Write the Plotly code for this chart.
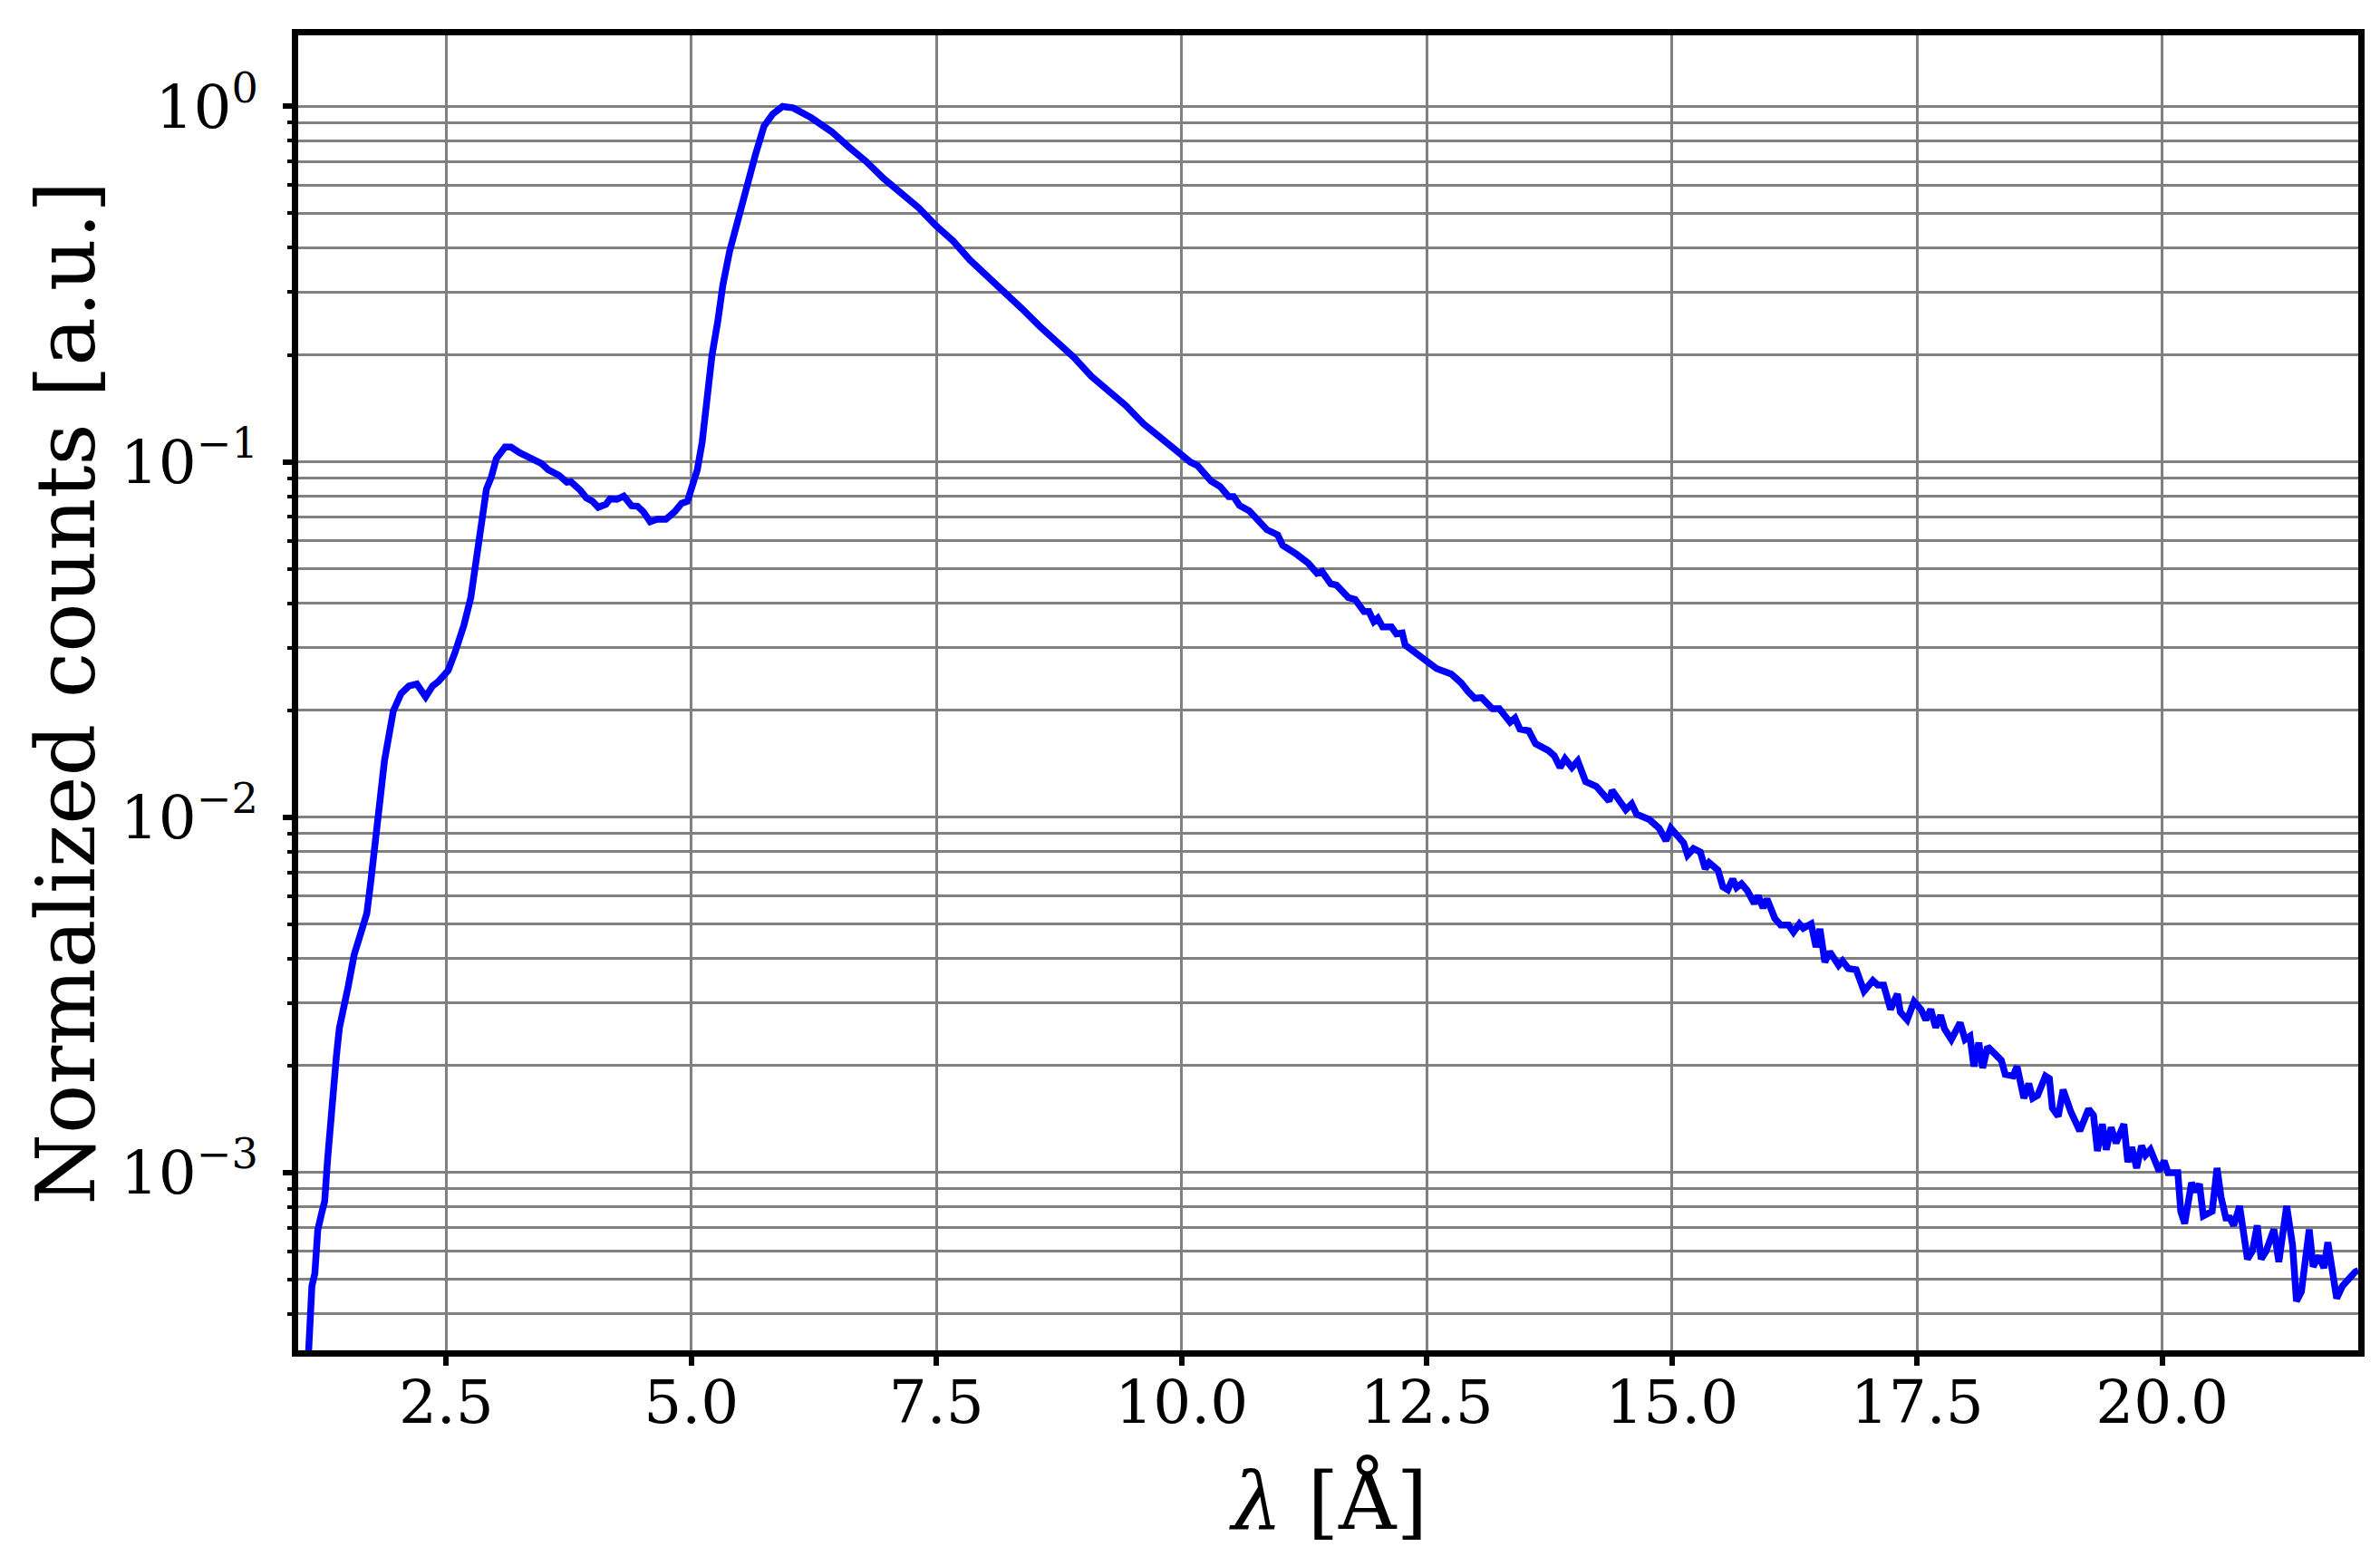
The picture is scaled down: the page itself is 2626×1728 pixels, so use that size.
import plotly.graph_objects as go

# wavelength in Angstrom and normalized counts
WAVELENGTH = [
    1.09, 1.11, 1.13, 1.16, 1.19, 1.23, 1.26, 1.29, 1.32, 1.35, 1.38, 1.41, 1.46, 1.50, 1.56,
    1.62, 1.69, 1.73, 1.78, 1.81, 1.87, 1.96, 2.04, 2.12, 2.20, 2.29, 2.36, 2.42, 2.52, 2.59,
    2.68, 2.75, 2.79, 2.84, 2.88, 2.91, 2.96, 3.01, 3.10, 3.16, 3.25, 3.41, 3.47, 3.54, 3.65,
    3.73, 3.77, 3.87, 3.93, 3.99, 4.05, 4.13, 4.17, 4.24, 4.31, 4.39, 4.45, 4.51, 4.58, 4.65,
    4.74, 4.83, 4.90, 4.96, 5.00, 5.06, 5.11, 5.16, 5.21, 5.27, 5.32, 5.39, 5.48, 5.56, 5.65,
    5.74, 5.83, 5.93, 6.04, 6.22, 6.43, 6.61, 6.78, 6.96, 7.14, 7.32, 7.49, 7.67, 7.84, 8.02,
    8.19, 8.37, 8.55, 8.72, 8.90, 9.08, 9.25, 9.43, 9.61, 9.78, 9.95, 10.09, 10.16, 10.30, 10.39,
    10.48, 10.53, 10.59, 10.69, 10.80, 10.87, 10.98, 11.03, 11.17, 11.29, 11.38, 11.43, 11.52, 11.58, 11.70,
    11.77, 11.86, 11.91, 11.96, 12.00, 12.05, 12.14, 12.19, 12.25, 12.28, 12.39, 12.50, 12.60, 12.75, 12.85,
    12.92, 12.99, 13.06, 13.17, 13.24, 13.35, 13.40, 13.45, 13.54, 13.61, 13.74, 13.80, 13.86, 13.91, 13.98,
    14.04, 14.12, 14.23, 14.36, 14.39, 14.53, 14.59, 14.64, 14.77, 14.87, 14.94, 14.99, 15.06, 15.12, 15.16,
    15.22, 15.29, 15.34, 15.38, 15.47, 15.52, 15.57, 15.62, 15.66, 15.71, 15.77, 15.84, 15.88, 15.93, 15.97,
    16.05, 16.11, 16.19, 16.24, 16.30, 16.34, 16.42, 16.47, 16.51, 16.56, 16.61, 16.70, 16.74, 16.80, 16.88,
    16.96, 17.05, 17.10, 17.16, 17.23, 17.30, 17.33, 17.40, 17.47, 17.54, 17.59, 17.64, 17.69, 17.74, 17.78,
    17.85, 17.94, 17.99, 18.04, 18.08, 18.13, 18.17, 18.22, 18.30, 18.36, 18.40, 18.48, 18.52, 18.59, 18.64,
    18.68, 18.73, 18.81, 18.85, 18.88, 18.94, 18.99, 19.07, 19.16, 19.25, 19.30, 19.34, 19.39, 19.43, 19.48,
    19.53, 19.61, 19.65, 19.69, 19.74, 19.79, 19.83, 19.88, 19.97, 20.02, 20.06, 20.16, 20.19, 20.23, 20.30,
    20.34, 20.38, 20.42, 20.51, 20.56, 20.60, 20.65, 20.69, 20.73, 20.79, 20.87, 20.92, 20.97, 21.01, 21.06,
    21.14, 21.19, 21.27, 21.33, 21.37, 21.42, 21.50, 21.54, 21.60, 21.65, 21.69, 21.78, 21.84, 21.90, 21.97,
    22.00,
]
COUNTS = [
    2.9e-4, 4.0e-4, 4.8e-4, 5.2e-4, 6.9e-4, 7.7e-4, 8.3e-4, 1.09e-3, 1.42e-3, 1.78e-3, 2.13e-3, 2.55e-3, 2.92e-3, 3.34e-3, 4.09e-3,
    4.69e-3, 5.36e-3, 6.57e-3, 8.61e-3, 0.0101, 0.0144, 0.0199, 0.0223, 0.0234, 0.0237, 0.0218, 0.0234, 0.0241, 0.0259, 0.0291,
    0.0347, 0.0414, 0.0504, 0.0601, 0.0731, 0.0838, 0.0906, 0.102, 0.110, 0.110, 0.106, 0.101, 0.099, 0.095, 0.0916,
    0.0876, 0.0879, 0.0830, 0.0791, 0.0775, 0.0745, 0.0760, 0.0786, 0.0784, 0.0801, 0.0752, 0.0750, 0.0724, 0.0678, 0.0689,
    0.0689, 0.0724, 0.0764, 0.0775, 0.0835, 0.0948, 0.1135, 0.1486, 0.199, 0.249, 0.313, 0.391, 0.490, 0.600, 0.726,
    0.879, 0.952, 1.0, 0.99, 0.930, 0.849, 0.767, 0.701, 0.627, 0.573, 0.518, 0.463, 0.418, 0.370, 0.334,
    0.299, 0.270, 0.241, 0.220, 0.197, 0.174, 0.159, 0.144, 0.128, 0.117, 0.106, 0.0998, 0.0977, 0.0883, 0.0853,
    0.0798, 0.0798, 0.0754, 0.0728, 0.0681, 0.0644, 0.0623, 0.0582, 0.0550, 0.0519, 0.0486, 0.0492, 0.0454, 0.0450, 0.0415,
    0.0410, 0.0379, 0.0379, 0.0355, 0.0363, 0.0343, 0.0343, 0.0328, 0.0330, 0.0305, 0.0290, 0.0277, 0.0262, 0.0253, 0.0239,
    0.0226, 0.0216, 0.0217, 0.0202, 0.0202, 0.0185, 0.0190, 0.0177, 0.0175, 0.0161, 0.0154, 0.0149, 0.0138, 0.0146, 0.0138,
    0.0144, 0.0126, 0.0122, 0.0111, 0.0119, 0.0105, 0.0109, 0.0102, 0.00985, 0.00931, 0.00859, 0.00931, 0.00880, 0.00847, 0.00783,
    0.00816, 0.00798, 0.00716, 0.00745, 0.00710, 0.00637, 0.00625, 0.00670, 0.00634, 0.00650, 0.00621, 0.00572, 0.00601, 0.00556, 0.00589,
    0.00519, 0.00497, 0.00497, 0.00475, 0.00501, 0.00487, 0.00501, 0.00431, 0.00485, 0.00391, 0.00418, 0.00383, 0.00394, 0.00375, 0.00372,
    0.00324, 0.00347, 0.00337, 0.00337, 0.00288, 0.00318, 0.00283, 0.00269, 0.00303, 0.00288, 0.00269, 0.00288, 0.00256, 0.00277, 0.00254,
    0.00237, 0.00264, 0.00237, 0.00242, 0.00199, 0.00232, 0.00197, 0.00226, 0.00215, 0.00207, 0.00189, 0.00187, 0.00199, 0.00162, 0.00178,
    0.00162, 0.00165, 0.00187, 0.00184, 0.00152, 0.00144, 0.00171, 0.00148, 0.00131, 0.00151, 0.00145, 0.00115, 0.00137, 0.00116, 0.00134,
    0.00121, 0.00137, 0.00107, 0.00118, 0.00103, 0.00119, 0.00112, 0.00116, 0.00101, 0.00108, 0.00100, 0.00100, 0.000778, 0.000719, 0.000937,
    0.000883, 0.000929, 0.000755, 0.000778, 0.00103, 0.000855, 0.000745, 0.000745, 0.000710, 0.000805, 0.000571, 0.000601, 0.000710, 0.000571, 0.000601,
    0.000692, 0.000561, 0.000805, 0.000625, 0.000435, 0.000462, 0.000692, 0.000544, 0.000583, 0.000539, 0.000637, 0.000443, 0.000480, 0.000504, 0.000526,
    0.000530,
]

X_TICKS = [2.5, 5.0, 7.5, 10.0, 12.5, 15.0, 17.5, 20.0]
X_TICK_LABELS = ["2.5", "5.0", "7.5", "10.0", "12.5", "15.0", "17.5", "20.0"]
Y_TICKS = [1.0, 0.1, 0.01, 0.001]
Y_TICK_LABELS = ["10<sup>0</sup>", "10<sup>−1</sup>", "10<sup>−2</sup>", "10<sup>−3</sup>"]

FONT = "DejaVu Serif"
GRID = "#808080"


def build_figure() -> go.Figure:
    minor_ticks = [m * 10.0 ** e for e in range(-4, 1) for m in range(2, 10)]

    figure = go.Figure(
        data=[
            go.Scatter(
                x=WAVELENGTH,
                y=COUNTS,
                mode="lines",
                line={"color": "#0000ff", "width": 7.5},
                showlegend=False,
            )
        ]
    )
    axis_common = {
        "showline": True,
        "linecolor": "black",
        "linewidth": 7,
        "mirror": True,
        "ticks": "outside",
        "ticklen": 10,
        "tickwidth": 6,
        "tickcolor": "black",
        "tickfont": {"family": FONT, "size": 66, "color": "black"},
        "showgrid": True,
        "gridcolor": GRID,
        "gridwidth": 2.6,
        "zeroline": False,
    }
    figure.update_xaxes(
        range=[0.99, 22.0],
        tickmode="array",
        tickvals=X_TICKS,
        ticktext=X_TICK_LABELS,
        ticklabelstandoff=-16,
        **axis_common,
    )
    figure.update_yaxes(
        type="log",
        range=[-3.5, 0.2],
        tickmode="array",
        tickvals=Y_TICKS,
        ticktext=Y_TICK_LABELS,
        ticklabelstandoff=14,
        minor={
            "tickvals": minor_ticks,
            "ticks": "outside",
            "ticklen": 5,
            "tickwidth": 4,
            "tickcolor": "black",
            "showgrid": True,
            "gridcolor": GRID,
            "gridwidth": 2.6,
        },
        **axis_common,
    )
    figure.update_layout(
        width=2626,
        height=1728,
        margin={"l": 321, "r": 32, "t": 31, "b": 246, "pad": 0},
        paper_bgcolor="white",
        plot_bgcolor="white",
        font={"family": FONT, "color": "black"},
        annotations=[
            {
                "text": "<i>λ</i> [Å]",
                "xref": "paper",
                "yref": "paper",
                "x": 0.5,
                "y": -0.115,
                "xanchor": "center",
                "yanchor": "middle",
                "showarrow": False,
                "font": {"family": FONT, "size": 88, "color": "black"},
            },
            {
                "text": "Normalized counts [a.u.]",
                "xref": "paper",
                "yref": "paper",
                "x": -0.113,
                "y": 0.5,
                "xanchor": "center",
                "yanchor": "middle",
                "textangle": -90,
                "showarrow": False,
                "font": {"family": FONT, "size": 90, "color": "black"},
            },
        ],
    )
    return figure


fig = build_figure()
fig.write_html("out.html")
